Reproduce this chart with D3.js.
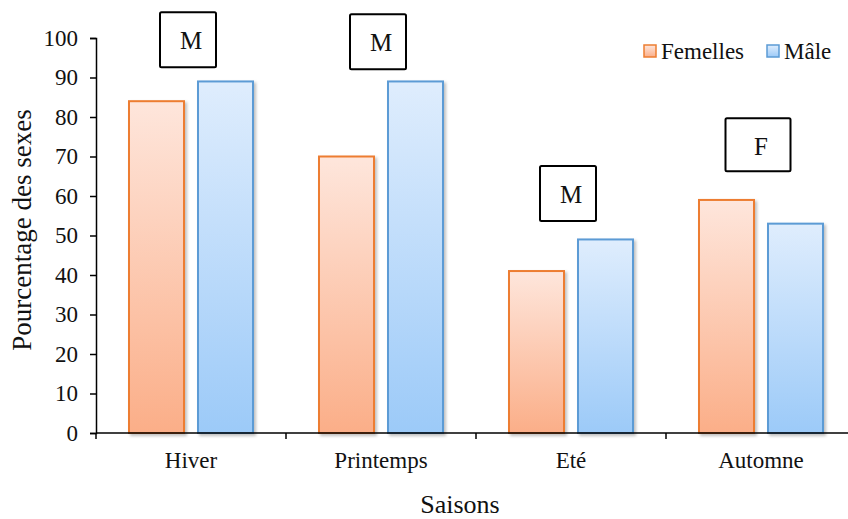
<!DOCTYPE html>
<html>
<head>
<meta charset="utf-8">
<script src="https://cdn.jsdelivr.net/npm/d3@7"></script>
<style>
  body { margin: 0; background: #fff; }
  text { font-family: "Times New Roman", Times, "Liberation Serif", "DejaVu Serif", serif; fill: #111; }
</style>
</head>
<body>
<div id="chart"></div>
<script>
  // data
  let seasons    = ['Hiver', 'Printemps', 'Eté', 'Automne']
  let femelles   = [84, 70, 41, 59]
  let males      = [89, 89, 49, 53]
  let dominant   = ['M', 'M', 'M', 'F']
  let boxLevel   = [106.5, 106, 67.6, 79.7]   // top of the letter boxes, in axis units
  let yTicks     = d3.range(0, 101, 10)
  let seriesKeys = ['Femelles', 'Mâle']

  let width = 848, height = 519

  let svg = d3.select('#chart')
              .append('svg')
              .attr('width', width)
              .attr('height', height)

  let defs = svg.append('defs')

  function gradient(id, top, bottom) {
    let g = defs.append('linearGradient')
      .attr('id', id)
      .attr('x1', 0).attr('y1', 0).attr('x2', 0).attr('y2', 1)
    g.append('stop').attr('offset', '0%').attr('stop-color', top)
    g.append('stop').attr('offset', '100%').attr('stop-color', bottom) }

  gradient('gradF', '#fee6dc', '#fbae88')
  gradient('gradM', '#dfedfd', '#9ccaf8')

  defs.append('filter')
      .attr('id', 'shadow')
      .attr('x', '-20%').attr('y', '-20%').attr('width', '150%').attr('height', '150%')
    .append('feDropShadow')
      .attr('dx', 2).attr('dy', 2)
      .attr('stdDeviation', 1.5)
      .attr('flood-color', '#000')
      .attr('flood-opacity', 0.25)

  let colours = {
    Femelles: { fill: 'url(#gradF)', stroke: '#ed7d31' },
    'Mâle':   { fill: 'url(#gradM)', stroke: '#5b9bd5' } }

  let x = d3.scaleBand().domain(seasons).range([96, 856])
  let xs = d3.scaleBand().domain(seriesKeys).range([33, 157]).paddingInner(0.203)
  let y = d3.scaleLinear().domain([0, 100]).range([433, 38])

  let rows = seasons.map(function(s, i) {
    return { season: s, values: [
      { key: 'Femelles', value: femelles[i] },
      { key: 'Mâle', value: males[i] } ] } })

  // bars
  let groups = svg.append('g').attr('id', 'bars')
    .selectAll('g').data(rows).enter()
    .append('g')
      .attr('transform', function(d) { return 'translate(' + x(d.season) + ',0)' })

  groups.selectAll('rect').data(function(d) { return d.values }).enter()
    .append('rect')
      .attr('x', function(d) { return xs(d.key) })
      .attr('y', function(d) { return y(d.value) })
      .attr('width', xs.bandwidth())
      .attr('height', function(d) { return y(0) - y(d.value) })
      .attr('fill', function(d) { return colours[d.key].fill })
      .attr('stroke', function(d) { return colours[d.key].stroke })
      .attr('stroke-width', 2)
      .attr('filter', 'url(#shadow)')

  // y axis
  let yAxis = svg.append('g')
    .attr('transform', 'translate(96,0)')
    .call(d3.axisLeft(y).tickValues(yTicks).tickSize(6).tickPadding(12))
  yAxis.attr('font-family', null)
  yAxis.select('.domain').attr('stroke', '#000').attr('stroke-width', 1.5)
  yAxis.selectAll('.tick line').attr('stroke', '#000').attr('stroke-width', 1.5)
  yAxis.selectAll('.tick text')
    .attr('font-size', 23)
    .attr('fill', '#111')

  // x axis
  let xAxis = svg.append('g')
  xAxis.append('line')
    .attr('x1', 96).attr('x2', width)
    .attr('y1', y(0)).attr('y2', y(0))
    .attr('stroke', '#000').attr('stroke-width', 1.5)
  xAxis.selectAll('line.tick').data(seasons).enter()
    .append('line')
      .attr('class', 'tick')
      .attr('x1', function(d) { return x(d) }).attr('x2', function(d) { return x(d) })
      .attr('y1', y(0)).attr('y2', y(0) + 6)
      .attr('stroke', '#000').attr('stroke-width', 1.5)
  xAxis.selectAll('text').data(seasons).enter()
    .append('text')
      .attr('x', function(d) { return x(d) + x.bandwidth() / 2 })
      .attr('y', 468)
      .attr('text-anchor', 'middle')
      .attr('font-size', 23)
      .text(function(d) { return d })

  // axis titles
  svg.append('text')
    .attr('x', 460).attr('y', 513)
    .attr('text-anchor', 'middle')
    .attr('font-size', 26)
    .text('Saisons')

  svg.append('text')
    .attr('transform', 'translate(31,' + 230 + ') rotate(-90)')
    .attr('text-anchor', 'middle')
    .attr('font-size', 27)
    .text('Pourcentage des sexes')

  // dominant sex boxes
  let boxes = svg.append('g').attr('id', 'boxes')
    .selectAll('g').data(seasons).enter()
    .append('g')
      .attr('transform', function(d, i) {
        let w = dominant[i] === 'F' ? 65 : 56
        return 'translate(' + (x(d) + x.bandwidth() / 2 - 3 - w / 2) + ',' + y(boxLevel[i]) + ')' })

  boxes.append('rect')
    .attr('width', function(d, i) { return dominant[i] === 'F' ? 65 : 56 })
    .attr('height', function(d, i) { return dominant[i] === 'F' ? 53 : 55 })
    .attr('rx', 1.5)
    .attr('fill', '#fff')
    .attr('stroke', '#000')
    .attr('stroke-width', 2)

  boxes.append('text')
    .attr('x', function(d, i) { return (dominant[i] === 'F' ? 65 : 56) / 2 + 3 })
    .attr('y', 37)
    .attr('text-anchor', 'middle')
    .attr('font-size', 25)
    .text(function(d, i) { return dominant[i] })

  // legend
  let legendX = [644, 767]
  let legend = svg.append('g').attr('id', 'legend')
    .selectAll('g').data(seriesKeys).enter()
    .append('g')
      .attr('transform', function(d, i) { return 'translate(' + legendX[i] + ',45)' })

  legend.append('rect')
    .attr('width', 12).attr('height', 12)
    .attr('fill', function(d) { return colours[d].fill })
    .attr('stroke', function(d) { return colours[d].stroke })
    .attr('stroke-width', 1.5)

  legend.append('text')
    .attr('x', 17).attr('y', 14)
    .attr('font-size', 23)
    .text(function(d) { return d })
</script>
</body>
</html>
